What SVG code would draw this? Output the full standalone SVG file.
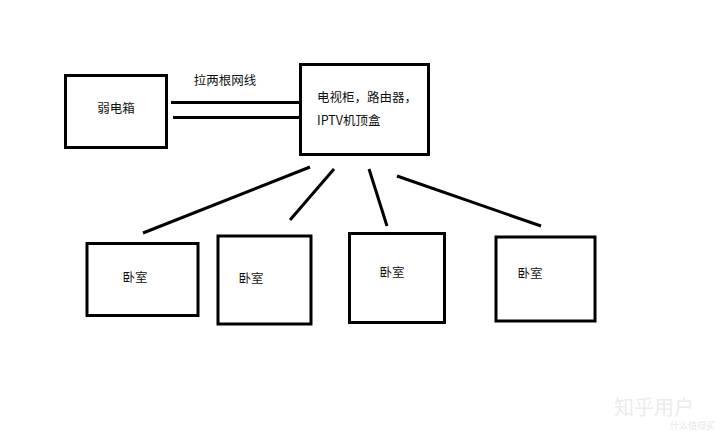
<svg xmlns="http://www.w3.org/2000/svg" width="720" height="432" viewBox="0 0 720 432">
<style>
.box{fill:#fff;stroke:#000;stroke-width:3}
.ln{stroke:#000;stroke-width:3;fill:none}
text{font-family:"Noto Sans CJK SC","Noto Sans",sans-serif;font-size:12.5px;fill:#111}
.c{text-anchor:middle}
.wm{font-size:20px;fill:#ececec}
.wm2{font-size:9px;fill:#e6e6e6}
</style>
<rect width="720" height="432" fill="#fff"/>
<g id="connectors">
<line class="ln" x1="171" y1="102.5" x2="300" y2="102.5"/>
<line class="ln" x1="173" y1="117.5" x2="300" y2="117.5"/>
<line class="ln" x1="143" y1="233" x2="310" y2="167"/>
<line class="ln" x1="290" y1="220" x2="334" y2="169"/>
<line class="ln" x1="369" y1="169" x2="387" y2="226"/>
<line class="ln" x1="397" y1="176" x2="541" y2="226"/>
<text x="225" y="84.5" class="c">拉两根网线</text>
</g>
<g id="weak-box">
<rect class="box" x="65.5" y="75.5" width="101" height="72"/>
<text x="116" y="112.5" class="c">弱电箱</text>
</g>
<g id="tv-cabinet">
<rect class="box" x="300.5" y="64.5" width="128" height="90"/>
<text x="317" y="102">电视柜，路由器，</text>
<text x="317" y="124.5">IPTV机顶盒</text>
</g>
<g id="bedroom1">
<rect class="box" x="87" y="243.5" width="111" height="72"/>
<text x="135" y="281.5" class="c">卧室</text>
</g>
<g id="bedroom2">
<rect class="box" x="218" y="236" width="93" height="88"/>
<text x="251" y="282.5" class="c">卧室</text>
</g>
<g id="bedroom3">
<rect class="box" x="349.5" y="233.5" width="95" height="89"/>
<text x="392" y="276.5" class="c">卧室</text>
</g>
<g id="bedroom4">
<rect class="box" x="496" y="237" width="99" height="84"/>
<text x="530" y="278" class="c">卧室</text>
</g>
<text x="614" y="415" class="wm">知乎用户</text>
<text x="670" y="429" class="wm2">什么值得买</text>
</svg>
